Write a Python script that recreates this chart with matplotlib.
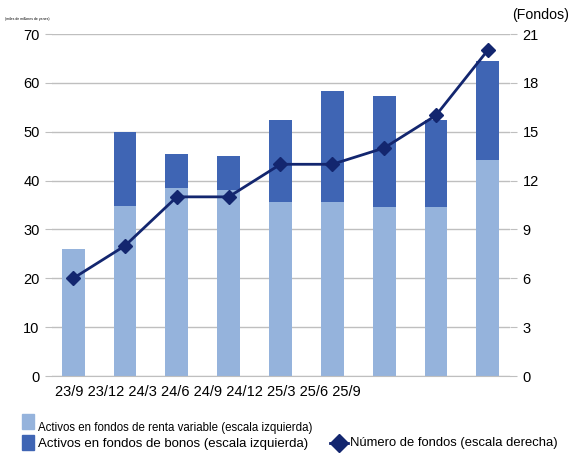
import matplotlib.pyplot as plt
from matplotlib.patches import Rectangle
from matplotlib.lines import Line2D

plt.rcParams['font.family'] = ['Liberation Sans', 'DejaVu Sans']

periodos = ['23/9', '23/12', '24/3', '24/6', '24/9', '24/12', '25/3', '25/6', '25/9']
renta_variable = [26.0, 34.8, 38.5, 38.1, 35.6, 35.6, 34.6, 34.6, 44.2]
bonos = [0.0, 15.2, 6.9, 6.9, 16.8, 22.7, 22.7, 17.8, 20.3]
num_fondos = [6, 8, 11, 11, 13, 13, 14, 16, 20]

c_light = '#95B3DC'
c_dark = '#3F65B4'
c_line = '#13266F'
c_grid = '#BFBFBF'

W, H = 571, 459

def fx(px):
    return px / W

def fy(py):
    return 1 - py / H

fig = plt.figure(figsize=(5.71, 4.59), dpi=100)
ax = fig.add_axes([fx(52), fy(376), 458 / W, 342 / H])
ax2 = ax.twinx()

x = list(range(len(periodos)))
ax.bar(x, renta_variable, width=0.44, color=c_light, zorder=2)
ax.bar(x, bonos, width=0.44, bottom=renta_variable, color=c_dark, zorder=2)

ax.set_ylim(0, 70)
ax.set_yticks(range(0, 71, 10))
ax.set_xlim(-0.41, 8.43)
ax.set_xticks([])
ax.grid(axis='y', color=c_grid, lw=1, zorder=0)
for s in ['top', 'right', 'left']:
    ax.spines[s].set_visible(False)
ax.spines['bottom'].set_color(c_grid)
ax.tick_params(axis='y', length=5, color=c_grid, labelsize=10.5, pad=4)

ax2.plot(x, num_fondos, color=c_line, lw=2, marker='D', markersize=7.5, zorder=3)
ax2.set_ylim(0, 21)
ax2.set_yticks(range(0, 22, 3))
for s in ['top', 'right', 'left', 'bottom']:
    ax2.spines[s].set_visible(False)
ax2.tick_params(axis='y', length=5, color=c_grid, labelsize=10.5, pad=4)

# etiquetas del eje horizontal
fig.text(fx(55), fy(392), ' '.join(periodos), fontsize=10.5, va='center', ha='left')

fig.text(fx(5), fy(19), '(miles de millones de yenes)', fontsize=2.5, va='center')
fig.text(fx(569), fy(15), '(Fondos)', fontsize=10.2, va='center', ha='right')

# leyenda
fig.patches.append(Rectangle((fx(22), fy(429)), 12 / W, 15 / H, color=c_light, transform=fig.transFigure))
fig.patches.append(Rectangle((fx(22), fy(450)), 12 / W, 15 / H, color=c_dark, transform=fig.transFigure))
fig.text(fx(38), fy(428), 'Activos en fondos de renta variable (escala izquierda)', fontsize=8.3, va='center')
fig.text(fx(38), fy(444), 'Activos en fondos de bonos (escala izquierda)', fontsize=9.5, va='center')
fig.lines.append(Line2D([fx(330), fx(348)], [fy(443), fy(443)], color=c_line, lw=2,
                        transform=fig.transFigure))
fig.lines.append(Line2D([fx(339)], [fy(443)], color=c_line, marker='D', markersize=9,
                        transform=fig.transFigure))
fig.text(fx(350), fy(443), 'Número de fondos (escala derecha)', fontsize=9.4, va='center')

fig.savefig('out.png', dpi=100)
